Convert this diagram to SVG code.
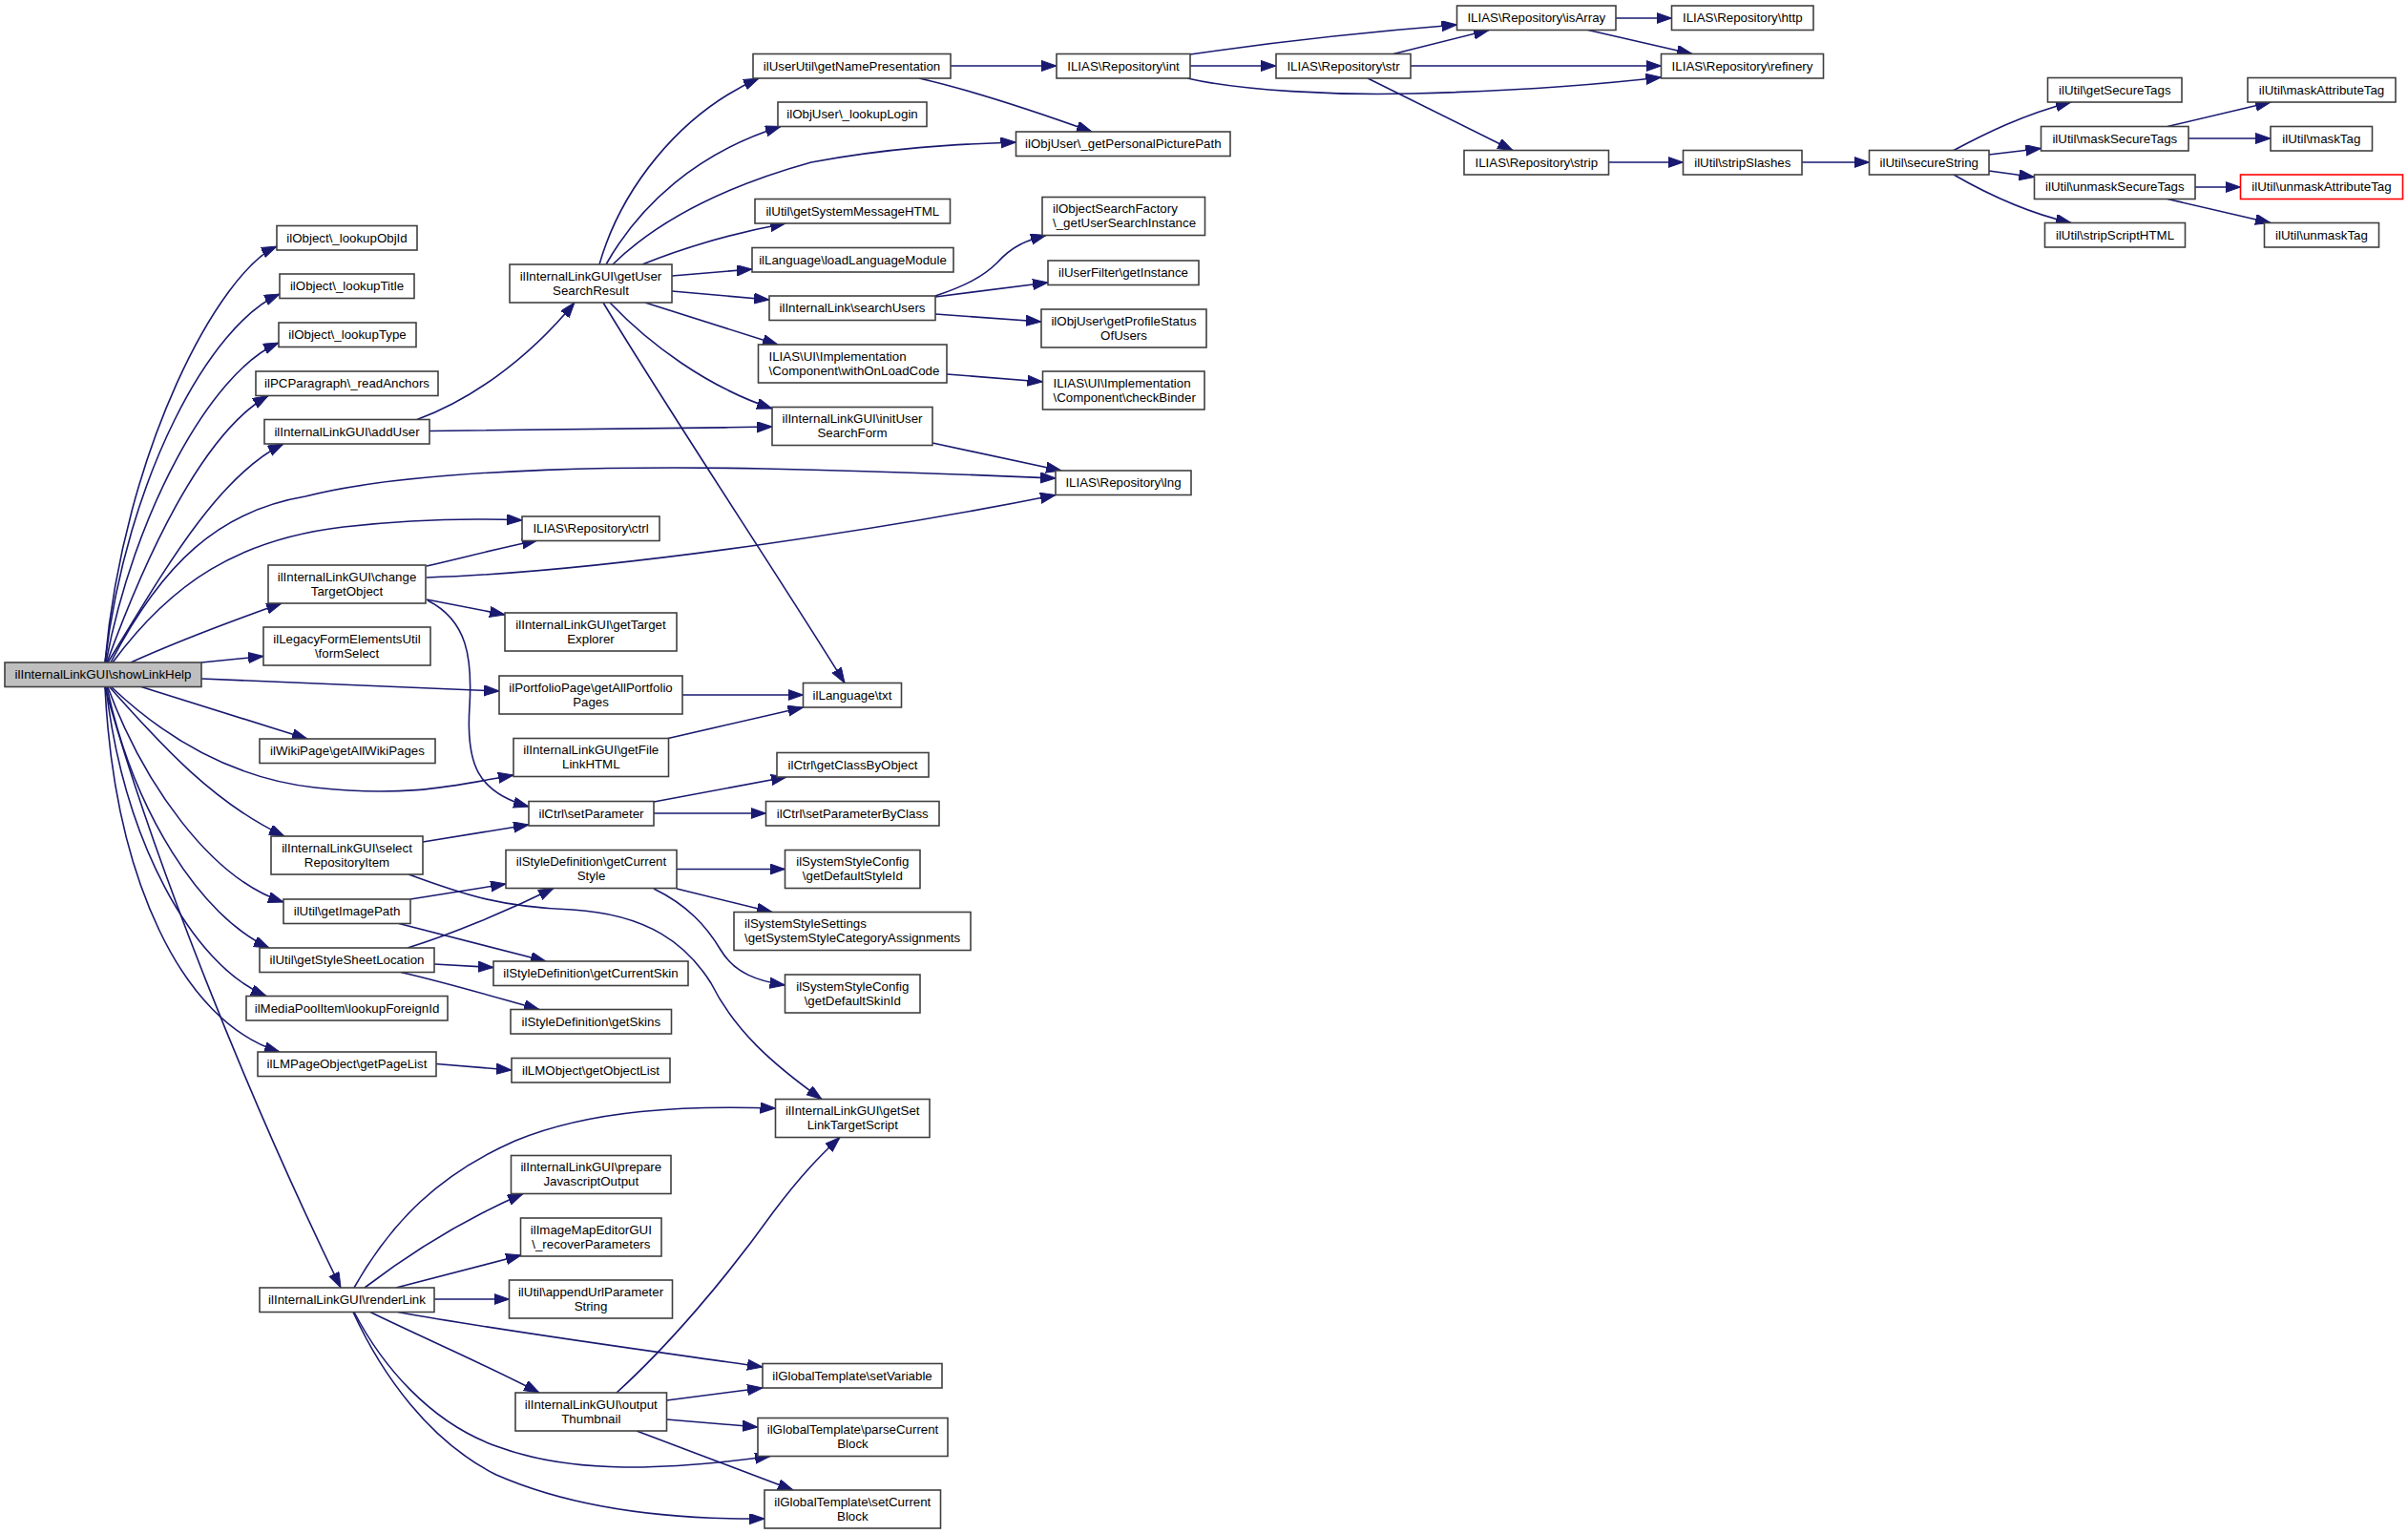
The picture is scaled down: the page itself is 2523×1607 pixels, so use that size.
<svg xmlns="http://www.w3.org/2000/svg" width="2523" height="1607" viewBox="0 0 2523 1607">
<defs>
<style>
.n rect{fill:#fff;stroke:#404040;stroke-width:1.6}
.n rect.root{fill:#bfbfbf}
.n rect.red{stroke:#ff0000}
text{font-family:"Liberation Sans",Arial,Helvetica,sans-serif;font-size:13.3px;fill:#000}
.m{text-anchor:middle}
.e path{fill:none;stroke:#191970;stroke-width:1.6;marker-end:url(#a)}
</style>
<marker id="a" markerUnits="userSpaceOnUse" markerWidth="17" markerHeight="12" refX="16" refY="5.6" orient="auto"><path d="M0,0 L16,5.6 L0,11.2 z" fill="#191970" stroke="#191970" stroke-width="1"/></marker>
</defs>
<rect x="0" y="0" width="2523" height="1607" fill="#fff"/>
<g class="e" id="edges">
<path d="M110,694 C130,470 230,285 290,258"/>
<path d="M110,694 C133,500 220,340 293,308"/>
<path d="M111,694 C140,540 220,390 292,359"/>
<path d="M112,694 C150,590 210,455 281,414.5"/>
<path d="M113,694 C165,610 225,500 297,465"/>
<path d="M116,694 C170,590 230,535 320,520 C450,487 700,489 800,491 C950,494 1030,498 1106,501"/>
<path d="M118,694 C180,610 250,565 360,552 C440,543 500,543 547,545"/>
<path d="M137,694 C190,670 250,648 295,632"/>
<path d="M211,694 L276,687.5"/>
<path d="M211,711 L523,724"/>
<path d="M148,719.5 L322,774"/>
<path d="M117,720 C170,770 240,815 330,825 C430,836 480,822 538,812"/>
<path d="M115,720 C160,770 220,840 298,876"/>
<path d="M113,720 C150,820 220,920 297,945"/>
<path d="M112,720 C140,850 210,960 282,993"/>
<path d="M111,720 C130,880 200,1010 279,1043.5"/>
<path d="M110,720 C120,920 190,1070 293,1102"/>
<path d="M110,720 C160,900 260,1150 357,1349"/>
<path d="M437,439.5 C490,420 550,380 602,317"/>
<path d="M450,451.5 C600,450 700,449 809,447"/>
<path d="M447,593 C490,583 520,575 563,566"/>
<path d="M447,605 C650,598 950,550 1106,518.5"/>
<path d="M447,628 L529,644"/>
<path d="M448,629 C490,650 495,690 492,740 C488,800 500,830 554,845"/>
<path d="M715,728 L841.5,728"/>
<path d="M700,773.5 L841.5,741"/>
<path d="M632,317 C700,430 820,610 885,715.5"/>
<path d="M639,317 C680,360 740,405 809,428"/>
<path d="M676,317 L815,361"/>
<path d="M704,305 L806,314"/>
<path d="M704,289 L788,282"/>
<path d="M673,277 C720,258 770,244 823,234"/>
<path d="M642,277 C690,230 760,195 850,170 C930,155 1000,151 1064.5,149"/>
<path d="M635,277 C670,215 730,160 818,132.5"/>
<path d="M628,277 C650,200 710,120 795,82"/>
<path d="M996,69 L1107,69"/>
<path d="M963,82 C1020,95 1080,115 1144,138"/>
<path d="M1247,57 C1350,42 1450,32 1526.5,26"/>
<path d="M1247,69 L1337,69"/>
<path d="M1244,82 C1300,95 1400,100 1480,98 C1600,95 1680,88 1740.5,81"/>
<path d="M1460,56.5 L1560,31.5"/>
<path d="M1478,69 L1740.5,69"/>
<path d="M1433,82 L1585,157.5"/>
<path d="M1693,19 L1751.5,19"/>
<path d="M1664,31.5 L1773,56.5"/>
<path d="M1685.5,170 L1763.5,170"/>
<path d="M1888,170 L1958.5,170"/>
<path d="M2047,157.5 C2080,140 2120,120 2170,107"/>
<path d="M2084,162 L2138.5,155.5"/>
<path d="M2084,179 L2131.5,185.5"/>
<path d="M2047,183 C2080,202 2120,222 2170,233.5"/>
<path d="M2271,132.5 L2379,107"/>
<path d="M2293,145 L2379,145"/>
<path d="M2300,196 L2347.5,196"/>
<path d="M2271,208.5 L2379,233.5"/>
<path d="M980,310 C1010,300 1030,290 1045,275 C1060,258 1075,252 1096,246.5"/>
<path d="M980,311 L1098,296"/>
<path d="M980,329 L1091,337"/>
<path d="M992,392 L1092.5,400"/>
<path d="M977,464 L1112,493"/>
<path d="M685,840 L824,814"/>
<path d="M685,852 L802.5,852"/>
<path d="M443,882 L554,864"/>
<path d="M428,916 C480,935 520,950 600,953 C680,958 720,990 745,1030 C770,1080 810,1115 861,1151.5"/>
<path d="M430,942 L530,926"/>
<path d="M418,967.5 L572,1007"/>
<path d="M427,993 C470,980 530,955 580,930.5"/>
<path d="M455,1010 L517,1013.5"/>
<path d="M420,1018.5 C470,1030 520,1045 565,1057.5"/>
<path d="M709,910.5 L822.5,910.5"/>
<path d="M709,931 L809,955.5"/>
<path d="M685,931 C720,948 740,970 755,995 C770,1020 795,1028 822.5,1032"/>
<path d="M457,1114.5 L536,1121"/>
<path d="M371,1349 C410,1280 460,1230 540,1195 C620,1162 720,1158 812.5,1161"/>
<path d="M382,1349 C420,1320 480,1280 548,1250.5"/>
<path d="M415,1349 L546,1315"/>
<path d="M455,1361 L533.5,1361"/>
<path d="M417,1374.5 C530,1395 680,1415 799,1432"/>
<path d="M388,1374.5 C440,1400 510,1430 565,1459"/>
<path d="M371,1374.5 C400,1430 450,1490 520,1515 C600,1545 700,1540 807,1525.5"/>
<path d="M370,1374.5 C400,1440 450,1510 520,1545 C600,1580 700,1592 801,1591"/>
<path d="M646,1459 C700,1410 760,1340 810,1270 C840,1230 860,1210 880,1191.5"/>
<path d="M698.5,1467 L799,1454"/>
<path d="M698.5,1487 L794,1495"/>
<path d="M667,1499 L831,1561"/>
</g>
<g class="n" id="n0"><rect class="root" x="5" y="694" width="206" height="25.5"/><text class="m" x="108" y="711.3">ilInternalLinkGUI\showLinkHelp</text></g>
<g class="n" id="n1"><rect x="290" y="236.5" width="147" height="25.5"/><text class="m" x="363.5" y="253.8">ilObject\_lookupObjId</text></g>
<g class="n" id="n2"><rect x="293" y="287" width="141" height="25.5"/><text class="m" x="363.5" y="304.3">ilObject\_lookupTitle</text></g>
<g class="n" id="n3"><rect x="292" y="338" width="144" height="25.5"/><text class="m" x="364" y="355.3">ilObject\_lookupType</text></g>
<g class="n" id="n4"><rect x="268" y="389" width="191" height="25.5"/><text class="m" x="363.5" y="406.3">ilPCParagraph\_readAnchors</text></g>
<g class="n" id="n5"><rect x="277" y="439.5" width="173" height="25.5"/><text class="m" x="363.5" y="456.8">ilInternalLinkGUI\addUser</text></g>
<g class="n" id="n6"><rect x="281" y="592" width="165" height="40"/><text class="m" x="363.5" y="608.5">ilInternalLinkGUI\change</text><text class="m" x="363.5" y="623.5">TargetObject</text></g>
<g class="n" id="n7"><rect x="276" y="657" width="175" height="40"/><text class="m" x="363.5" y="673.5">ilLegacyFormElementsUtil</text><text class="m" x="363.5" y="688.5">\formSelect</text></g>
<g class="n" id="n8"><rect x="272" y="774" width="184" height="25.5"/><text class="m" x="364" y="791.3">ilWikiPage\getAllWikiPages</text></g>
<g class="n" id="n9"><rect x="284" y="876" width="159" height="40"/><text class="m" x="363.5" y="892.5">ilInternalLinkGUI\select</text><text class="m" x="363.5" y="907.5">RepositoryItem</text></g>
<g class="n" id="n10"><rect x="297" y="942" width="133" height="25.5"/><text class="m" x="363.5" y="959.3">ilUtil\getImagePath</text></g>
<g class="n" id="n11"><rect x="272" y="993" width="183" height="25.5"/><text class="m" x="363.5" y="1010.3">ilUtil\getStyleSheetLocation</text></g>
<g class="n" id="n12"><rect x="258" y="1043.5" width="211" height="25.5"/><text class="m" x="363.5" y="1060.8">ilMediaPoolItem\lookupForeignId</text></g>
<g class="n" id="n13"><rect x="270" y="1102" width="187" height="25.5"/><text class="m" x="363.5" y="1119.3">ilLMPageObject\getPageList</text></g>
<g class="n" id="n14"><rect x="272" y="1349" width="183" height="25.5"/><text class="m" x="363.5" y="1366.3">ilInternalLinkGUI\renderLink</text></g>
<g class="n" id="n15"><rect x="534" y="277" width="170" height="40"/><text class="m" x="619" y="293.5">ilInternalLinkGUI\getUser</text><text class="m" x="619" y="308.5">SearchResult</text></g>
<g class="n" id="n16"><rect x="547" y="541" width="144" height="25.5"/><text class="m" x="619" y="558.3">ILIAS\Repository\ctrl</text></g>
<g class="n" id="n17"><rect x="529" y="642" width="180" height="40"/><text class="m" x="619" y="658.5">ilInternalLinkGUI\getTarget</text><text class="m" x="619" y="673.5">Explorer</text></g>
<g class="n" id="n18"><rect x="523" y="708" width="192" height="40"/><text class="m" x="619" y="724.5">ilPortfolioPage\getAllPortfolio</text><text class="m" x="619" y="739.5">Pages</text></g>
<g class="n" id="n19"><rect x="538" y="773.5" width="162.5" height="40"/><text class="m" x="619.3" y="790">ilInternalLinkGUI\getFile</text><text class="m" x="619.3" y="805">LinkHTML</text></g>
<g class="n" id="n20"><rect x="554" y="839.5" width="131" height="25.5"/><text class="m" x="619.5" y="856.8">ilCtrl\setParameter</text></g>
<g class="n" id="n21"><rect x="530" y="890.5" width="179" height="40"/><text class="m" x="619.5" y="907">ilStyleDefinition\getCurrent</text><text class="m" x="619.5" y="922">Style</text></g>
<g class="n" id="n22"><rect x="517" y="1007" width="204" height="25.5"/><text class="m" x="619" y="1024.3">ilStyleDefinition\getCurrentSkin</text></g>
<g class="n" id="n23"><rect x="535" y="1057.5" width="168.5" height="25.5"/><text class="m" x="619.3" y="1074.8">ilStyleDefinition\getSkins</text></g>
<g class="n" id="n24"><rect x="536" y="1108.5" width="166" height="25.5"/><text class="m" x="619" y="1125.8">ilLMObject\getObjectList</text></g>
<g class="n" id="n25"><rect x="535.5" y="1210.5" width="167.5" height="40"/><text class="m" x="619.3" y="1227">ilInternalLinkGUI\prepare</text><text class="m" x="619.3" y="1242">JavascriptOutput</text></g>
<g class="n" id="n26"><rect x="545.5" y="1276" width="147.5" height="40"/><text class="m" x="619.3" y="1292.5">ilImageMapEditorGUI</text><text class="m" x="619.3" y="1307.5">\_recoverParameters</text></g>
<g class="n" id="n27"><rect x="533.5" y="1341" width="171" height="40"/><text class="m" x="619" y="1357.5">ilUtil\appendUrlParameter</text><text class="m" x="619" y="1372.5">String</text></g>
<g class="n" id="n28"><rect x="540" y="1459" width="158.5" height="40"/><text class="m" x="619.3" y="1475.5">ilInternalLinkGUI\output</text><text class="m" x="619.3" y="1490.5">Thumbnail</text></g>
<g class="n" id="n29"><rect x="789" y="56.5" width="207" height="25.5"/><text class="m" x="892.5" y="73.8">ilUserUtil\getNamePresentation</text></g>
<g class="n" id="n30"><rect x="815" y="107" width="156" height="25.5"/><text class="m" x="893" y="124.3">ilObjUser\_lookupLogin</text></g>
<g class="n" id="n31"><rect x="791" y="208.5" width="204.5" height="25.5"/><text class="m" x="893.3" y="225.8">ilUtil\getSystemMessageHTML</text></g>
<g class="n" id="n32"><rect x="788" y="259.5" width="211" height="25.5"/><text class="m" x="893.5" y="276.8">ilLanguage\loadLanguageModule</text></g>
<g class="n" id="n33"><rect x="806" y="310" width="174" height="25.5"/><text class="m" x="893" y="327.3">ilInternalLink\searchUsers</text></g>
<g class="n" id="n34"><rect x="794.5" y="361" width="197.5" height="40"/><text x="805.5" y="377.5">ILIAS\UI\Implementation</text><text x="805.5" y="392.5">\Component\withOnLoadCode</text></g>
<g class="n" id="n35"><rect x="809" y="426.5" width="168" height="40"/><text class="m" x="893" y="443">ilInternalLinkGUI\initUser</text><text class="m" x="893" y="458">SearchForm</text></g>
<g class="n" id="n36"><rect x="841.5" y="715.5" width="103" height="25.5"/><text class="m" x="893" y="732.8">ilLanguage\txt</text></g>
<g class="n" id="n37"><rect x="814" y="788.5" width="159" height="25.5"/><text class="m" x="893.5" y="805.8">ilCtrl\getClassByObject</text></g>
<g class="n" id="n38"><rect x="802.5" y="839.5" width="181.5" height="25.5"/><text class="m" x="893.3" y="856.8">ilCtrl\setParameterByClass</text></g>
<g class="n" id="n39"><rect x="822.5" y="890.5" width="141.5" height="40"/><text class="m" x="893.3" y="907">ilSystemStyleConfig</text><text class="m" x="893.3" y="922">\getDefaultStyleId</text></g>
<g class="n" id="n40"><rect x="769" y="955.5" width="248" height="40"/><text x="780" y="972">ilSystemStyleSettings</text><text x="780" y="987">\getSystemStyleCategoryAssignments</text></g>
<g class="n" id="n41"><rect x="822.5" y="1021" width="141.5" height="40"/><text class="m" x="893.3" y="1037.5">ilSystemStyleConfig</text><text class="m" x="893.3" y="1052.5">\getDefaultSkinId</text></g>
<g class="n" id="n42"><rect x="812.5" y="1151.5" width="161.5" height="40"/><text class="m" x="893.3" y="1168">ilInternalLinkGUI\getSet</text><text class="m" x="893.3" y="1183">LinkTargetScript</text></g>
<g class="n" id="n43"><rect x="799" y="1428.5" width="188" height="25.5"/><text class="m" x="893" y="1445.8">ilGlobalTemplate\setVariable</text></g>
<g class="n" id="n44"><rect x="794" y="1485.5" width="199" height="40"/><text class="m" x="893.5" y="1502">ilGlobalTemplate\parseCurrent</text><text class="m" x="893.5" y="1517">Block</text></g>
<g class="n" id="n45"><rect x="801" y="1561" width="184.5" height="40"/><text class="m" x="893.3" y="1577.5">ilGlobalTemplate\setCurrent</text><text class="m" x="893.3" y="1592.5">Block</text></g>
<g class="n" id="n46"><rect x="1107" y="56.5" width="140" height="25.5"/><text class="m" x="1177" y="73.8">ILIAS\Repository\int</text></g>
<g class="n" id="n47"><rect x="1064.5" y="138" width="224.5" height="25.5"/><text class="m" x="1176.8" y="155.3">ilObjUser\_getPersonalPicturePath</text></g>
<g class="n" id="n48"><rect x="1092" y="206.5" width="170.5" height="40"/><text x="1103" y="223">ilObjectSearchFactory</text><text x="1103" y="238">\_getUserSearchInstance</text></g>
<g class="n" id="n49"><rect x="1098" y="273" width="158" height="25.5"/><text class="m" x="1177" y="290.3">ilUserFilter\getInstance</text></g>
<g class="n" id="n50"><rect x="1091" y="324" width="173" height="40"/><text class="m" x="1177.5" y="340.5">ilObjUser\getProfileStatus</text><text class="m" x="1177.5" y="355.5">OfUsers</text></g>
<g class="n" id="n51"><rect x="1092.5" y="389" width="169.5" height="40"/><text x="1103.5" y="405.5">ILIAS\UI\Implementation</text><text x="1103.5" y="420.5">\Component\checkBinder</text></g>
<g class="n" id="n52"><rect x="1106" y="493" width="142" height="25.5"/><text class="m" x="1177" y="510.3">ILIAS\Repository\lng</text></g>
<g class="n" id="n53"><rect x="1337" y="56.5" width="141" height="25.5"/><text class="m" x="1407.5" y="73.8">ILIAS\Repository\str</text></g>
<g class="n" id="n54"><rect x="1526.5" y="6" width="166.5" height="25.5"/><text class="m" x="1609.8" y="23.3">ILIAS\Repository\isArray</text></g>
<g class="n" id="n55"><rect x="1534" y="157.5" width="151.5" height="25.5"/><text class="m" x="1609.8" y="174.8">ILIAS\Repository\strip</text></g>
<g class="n" id="n56"><rect x="1751.5" y="6" width="148.5" height="25.5"/><text class="m" x="1825.8" y="23.3">ILIAS\Repository\http</text></g>
<g class="n" id="n57"><rect x="1740.5" y="56.5" width="170" height="25.5"/><text class="m" x="1825.5" y="73.8">ILIAS\Repository\refinery</text></g>
<g class="n" id="n58"><rect x="1763.5" y="157.5" width="124.5" height="25.5"/><text class="m" x="1825.8" y="174.8">ilUtil\stripSlashes</text></g>
<g class="n" id="n59"><rect x="1958.5" y="157.5" width="125.5" height="25.5"/><text class="m" x="2021.3" y="174.8">ilUtil\secureString</text></g>
<g class="n" id="n60"><rect x="2145.5" y="81.5" width="140.5" height="25.5"/><text class="m" x="2215.8" y="98.8">ilUtil\getSecureTags</text></g>
<g class="n" id="n61"><rect x="2138.5" y="132.5" width="154.5" height="25.5"/><text class="m" x="2215.8" y="149.8">ilUtil\maskSecureTags</text></g>
<g class="n" id="n62"><rect x="2131.5" y="183" width="168.5" height="25.5"/><text class="m" x="2215.8" y="200.3">ilUtil\unmaskSecureTags</text></g>
<g class="n" id="n63"><rect x="2142.5" y="233.5" width="147" height="25.5"/><text class="m" x="2216" y="250.8">ilUtil\stripScriptHTML</text></g>
<g class="n" id="n64"><rect x="2355" y="81.5" width="155" height="25.5"/><text class="m" x="2432.5" y="98.8">ilUtil\maskAttributeTag</text></g>
<g class="n" id="n65"><rect x="2379" y="132.5" width="106.5" height="25.5"/><text class="m" x="2432.3" y="149.8">ilUtil\maskTag</text></g>
<g class="n" id="n66"><rect class="red" x="2347.5" y="183" width="170" height="25.5"/><text class="m" x="2432.5" y="200.3">ilUtil\unmaskAttributeTag</text></g>
<g class="n" id="n67"><rect x="2372.5" y="233.5" width="120" height="25.5"/><text class="m" x="2432.5" y="250.8">ilUtil\unmaskTag</text></g>
</svg>
